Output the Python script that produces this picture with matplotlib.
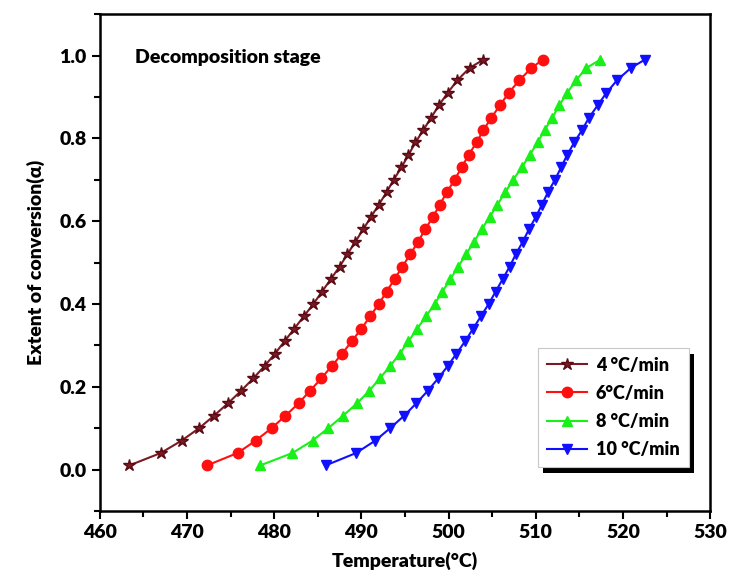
import numpy as np
import matplotlib.pyplot as plt
from matplotlib.patches import Rectangle
from matplotlib.ticker import MultipleLocator

plt.rcParams['font.family'] = ['Lato', 'DejaVu Sans']
plt.rcParams['font.weight'] = 'bold'

# conversion levels (same for all heating rates)
alpha = [0.01, 0.04, 0.07, 0.10, 0.13, 0.16, 0.19, 0.22, 0.25, 0.28, 0.31, 0.34,
         0.37, 0.40, 0.43, 0.46, 0.49, 0.52, 0.55, 0.58, 0.61, 0.64, 0.67, 0.70,
         0.73, 0.76, 0.79, 0.82, 0.85, 0.88, 0.91, 0.94, 0.97, 0.99]

# temperatures (°C) for each heating rate
T_4 = [463.4, 467.0, 469.4, 471.4, 473.1, 474.7, 476.2, 477.6, 478.9, 480.1, 481.2, 482.3,
       483.4, 484.5, 485.5, 486.5, 487.5, 488.4, 489.3, 490.2, 491.1, 492.0, 492.9, 493.7,
       494.6, 495.4, 496.2, 497.1, 498.0, 498.9, 499.9, 501.0, 502.4, 504.0]
T_6 = [472.3, 475.8, 477.9, 479.7, 481.3, 482.8, 484.1, 485.4, 486.6, 487.8, 488.9, 490.0,
       491.0, 492.0, 492.9, 493.8, 494.7, 495.6, 496.5, 497.3, 498.2, 499.0, 499.8, 500.7,
       501.5, 502.3, 503.2, 504.0, 504.9, 505.9, 506.9, 508.1, 509.5, 510.8]
T_8 = [478.4, 482.1, 484.4, 486.2, 487.9, 489.5, 490.9, 492.1, 493.3, 494.4, 495.4, 496.4,
       497.4, 498.4, 499.3, 500.2, 501.1, 502.0, 502.9, 503.8, 504.7, 505.6, 506.5, 507.4,
       508.4, 509.3, 510.2, 511.0, 511.9, 512.7, 513.6, 514.6, 515.8, 517.4]
T_10 = [485.9, 489.4, 491.6, 493.3, 494.9, 496.3, 497.6, 498.8, 499.9, 500.9, 501.9, 502.8,
        503.7, 504.6, 505.4, 506.2, 507.0, 507.7, 508.5, 509.2, 510.0, 510.7, 511.4, 512.2,
        512.9, 513.6, 514.4, 515.3, 516.1, 517.1, 518.1, 519.3, 520.9, 522.5]

fig = plt.figure(figsize=(7.33, 5.88), dpi=100)
ax = fig.add_axes([0.136, 0.131, 0.833, 0.845])

ax.plot(T_4, alpha, color='#7a1a22', marker='*', ms=9, lw=1.5, label='4 °C/min',
        markeredgecolor='#5a0a14')
ax.plot(T_6, alpha, color='#ff1010', marker='o', ms=7.5, lw=1.5, label='6°C/min')
ax.plot(T_8, alpha, color='#18f018', marker='^', ms=7.5, lw=1.5, label='8 °C/min')
ax.plot(T_10, alpha, color='#1010ff', marker='v', ms=7.5, lw=1.5, label='10 °C/min')

ax.set_xlim(460, 530)
ax.set_ylim(-0.1, 1.1)
ax.xaxis.set_major_locator(MultipleLocator(10))
ax.xaxis.set_minor_locator(MultipleLocator(5))
ax.yaxis.set_minor_locator(MultipleLocator(0.1))
ax.set_yticks([0.0, 0.2, 0.4, 0.6, 0.8, 1.0])
ax.tick_params(which='major', direction='out', length=6, width=1.5, labelsize=14)
ax.tick_params(which='minor', direction='out', length=4, width=1.5)
for lbl in ax.get_xticklabels() + ax.get_yticklabels():
    lbl.set_fontweight('heavy')
for s in ax.spines.values():
    s.set_linewidth(1.8)

ax.set_xlabel('Temperature(°C)', fontsize=14, fontweight='heavy', labelpad=8)
ax.set_ylabel('Extent of conversion(α)', fontsize=14, fontweight='heavy', labelpad=10)
ax.text(0.058, 0.913, 'Decomposition stage', transform=ax.transAxes, fontsize=14,
        fontweight='heavy', va='center')

leg = ax.legend(loc='lower left', bbox_to_anchor=(0.703, 0.07), fontsize=13,
                frameon=True, fancybox=False, edgecolor='#c8c8c8', framealpha=1,
                handlelength=2.2, borderpad=0.5, labelspacing=0.62, handletextpad=0.5)
leg.get_frame().set_linewidth(0.8)
for t in leg.get_texts():
    t.set_fontweight('heavy')
leg.set_zorder(6)

# thick black drop shadow on right/bottom of legend
fig.canvas.draw()
bb = leg.get_window_extent().transformed(fig.transFigure.inverted())
dx, dy = 5 / 733, 6 / 588
shadow = Rectangle((bb.x0 + dx, bb.y0 - dy), bb.width, bb.height, transform=fig.transFigure,
                   facecolor='black', edgecolor='none', zorder=5, clip_on=False)
ax.add_patch(shadow)

fig.savefig('out.png', dpi=100)
